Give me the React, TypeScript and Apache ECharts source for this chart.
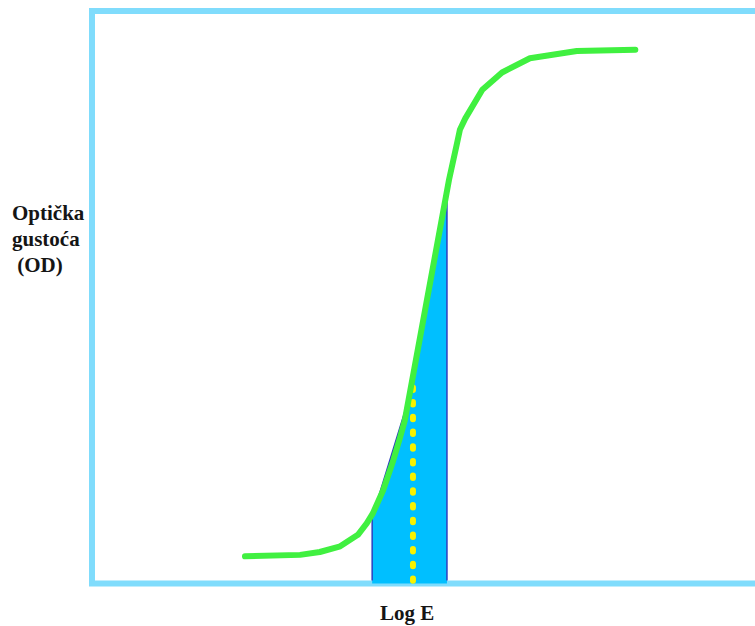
import React, { useEffect, useRef } from "react";
import * as echarts from "echarts";

// Characteristic (H&D) curve: Log E vs optical density
const curveLogE = [2.25, 3.06, 3.35, 3.65, 3.91, 4.04, 4.13, 4.28, 4.43, 4.53, 4.6, 5.25, 5.37, 5.41, 5.49, 5.74, 6.03, 6.44, 7.13, 7.99];
const curveOD = [0.19, 0.2, 0.22, 0.26, 0.34, 0.42, 0.49, 0.65, 0.86, 1.02, 1.14, 2.82, 3.08, 3.17, 3.25, 3.45, 3.57, 3.67, 3.72, 3.73];

// Shaded exposure range
const areaLogE = [4.12, 4.12, 4.6, 5.22, 5.22];
const areaOD = [0.021, 0.46, 1.2, 2.69, 0.021];

// Yellow dotted marker
const markerLogE = [4.72, 4.72];
const markerOD = [1.37, 0.02];

const yLabel = "Optička\ngustoća\n (OD)";
const xLabel = "Log E";

export default function App() {
  const ref = useRef<HTMLDivElement>(null);
  useEffect(() => {
    if (!ref.current) return;
    const chart = echarts.init(ref.current, undefined, { renderer: "svg" });
    const zip = (xs: number[], ys: number[]) => xs.map((x, i) => [x, ys[i]]);
    chart.setOption({
      animation: false,
      backgroundColor: "#ffffff",
      grid: {
        left: 92,
        top: 11,
        width: 680,
        height: 572.5,
        show: true,
        borderColor: "#80dcfc",
        borderWidth: 6,
        backgroundColor: "transparent",
        outerBoundsMode: "none",
        containLabel: false,
      },
      xAxis: { type: "value", min: 0, max: 10, show: false },
      yAxis: { type: "value", min: 0, max: 4, show: false },
      series: [
        {
          type: "line",
          data: zip(areaLogE, areaOD),
          symbol: "none",
          lineStyle: { color: "#2b3fbf", width: 1.5 },
          areaStyle: { color: "#00bfff", opacity: 1 },
          z: 2,
        },
        {
          type: "line",
          data: zip(markerLogE, markerOD),
          symbol: "none",
          lineStyle: { color: "#f8f200", width: 6, type: [2.5, 12.2], cap: "round" },
          z: 3,
        },
        {
          type: "line",
          data: zip(curveLogE, curveOD),
          symbol: "none",
          lineStyle: { color: "#40f040", width: 6, cap: "round", join: "round" },
          z: 4,
        },
      ],
      graphic: [
        {
          type: "text",
          left: 12,
          top: 200,
          style: {
            text: yLabel,
            font: "bold 21px 'Liberation Serif'",
            fill: "#151515",
            lineHeight: 26,
          },
        },
        {
          type: "text",
          x: 407,
          y: 613,
          style: {
            text: xLabel,
            font: "bold 21px 'Liberation Serif'",
            fill: "#151515",
            align: "center",
            verticalAlign: "middle",
          },
        },
      ],
    });
    return () => chart.dispose();
  }, []);
  return (
    <div
      ref={ref}
      style={{ position: "fixed", left: 0, top: 0, width: 755, height: 626 }}
    />
  );
}
